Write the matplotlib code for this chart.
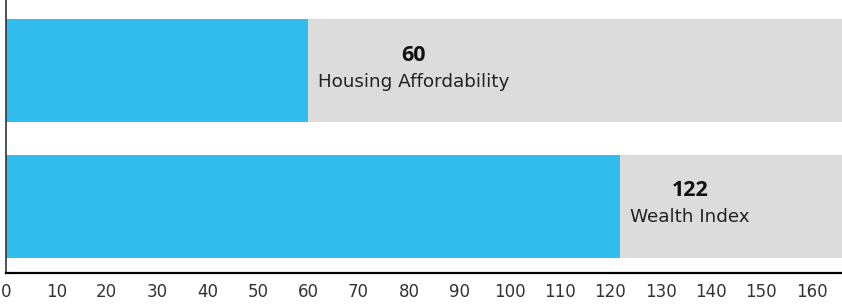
import matplotlib
matplotlib.use("Agg")
import matplotlib.pyplot as plt

plt.rcParams["font.family"] = ["DejaVu Sans"]

# data
labels = ["Housing Affordability", "Wealth Index"]
values = [60, 122]
scale_max = 166
ticks = list(range(0, 170, 10))

BLUE = "#33bdee"
GREY = "#dcdcdc"

fig = plt.figure(figsize=(8.42, 3.04), dpi=100)
ax = fig.add_axes([6 / 842, 31 / 304, 1 - 6 / 842, 273 / 304])

pos = [1, 0]
ax.barh(pos, [scale_max] * len(values), height=0.76, color=GREY, zorder=1)
ax.barh(pos, values, height=0.76, color=BLUE, zorder=2)

for p, v, lab in zip(pos, values, labels):
    t = ax.annotate(lab, xy=(v, p), xytext=(7, -8), textcoords="offset points",
                    ha="left", va="center", fontsize=13.2, color="#222222", zorder=3)
    ax.annotate(str(v), xy=(0.5, 1.0), xycoords=t, xytext=(0, 5),
                textcoords="offset points", ha="center", va="bottom",
                fontsize=15.5, fontweight="bold", color="#111111", zorder=3,
                family=["Open Sans", "DejaVu Sans"])

ax.set_xlim(0, scale_max)
ax.set_ylim(-0.494, 1.52)
ax.set_xticks(ticks)
ax.set_yticks([])
ax.tick_params(axis="x", length=0, pad=7, labelsize=12, labelcolor="#333333")
for s in ("top", "right"):
    ax.spines[s].set_visible(False)
ax.spines["bottom"].set_linewidth(1.6)
ax.spines["left"].set_linewidth(1.2)
ax.spines["left"].set_color("#333333")

fig.savefig("out.png", dpi=100)
